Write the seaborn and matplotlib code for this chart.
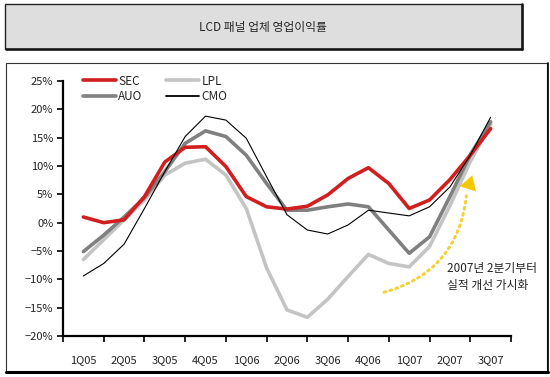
import numpy as np
import pandas as pd
import matplotlib
matplotlib.use('Agg')
import matplotlib.pyplot as plt
from matplotlib.patches import Rectangle
from matplotlib.lines import Line2D
import seaborn as sns

# 분기 (반분기 간격으로 그래프에서 읽은 값)
quarters = ['1Q05', '2Q05', '3Q05', '4Q05', '1Q06', '2Q06',
            '3Q06', '4Q06', '1Q07', '2Q07', '3Q07']
t = np.arange(0, 10.5, 0.5)

sec = [1.0, 0.0, 0.5, 4.6, 10.7, 13.3, 13.4, 9.9, 4.6, 2.8, 2.4,
       2.9, 4.9, 7.8, 9.7, 6.9, 2.5, 4.0, 7.6, 11.9, 16.6]
auo = [-5.1, -2.2, 1.0, 4.4, 9.0, 14.0, 16.2, 15.2, 11.9, 6.9, 2.2,
       2.2, 2.8, 3.3, 2.8, -1.3, -5.4, -2.5, 4.6, 12.0, 17.8]
lpl = [-6.5, -3.0, 0.5, 4.0, 8.4, 10.5, 11.2, 8.4, 2.5, -8.0, -15.4,
       -16.7, -13.5, -9.5, -5.6, -7.2, -7.8, -4.2, 3.0, 10.8, 17.4]
cmo = [-9.4, -7.2, -3.8, 2.5, 9.0, 15.2, 18.8, 18.1, 14.9, 8.1, 1.4,
       -1.3, -2.0, -0.4, 2.2, 1.7, 1.2, 2.8, 6.3, 11.9, 18.6]

names = ['SEC', 'AUO', 'LPL', 'CMO']
colors = {'SEC': '#d11f1f', 'AUO': '#808080', 'LPL': '#c4c4c4', 'CMO': '#000000'}
widths = {'SEC': 2.6, 'AUO': 2.6, 'LPL': 2.6, 'CMO': 0.8}

df = pd.DataFrame({'t': np.tile(t, 4),
                   'value': sec + auo + lpl + cmo,
                   'company': np.repeat(names, len(t))})

sns.set_style('white')
fam = ['Liberation Sans Narrow', 'Noto Sans CJK KR', 'DejaVu Sans']
plt.rcParams['font.family'] = fam
plt.rcParams['axes.unicode_minus'] = True
plt.rcParams['lines.solid_joinstyle'] = 'round'
plt.rcParams['lines.solid_capstyle'] = 'round'

fig = plt.figure(figsize=(5.5, 3.77), dpi=100)

# 제목 박스
fig.patches.append(Rectangle((5/550, 1-49/377), 517/550, 45/377, transform=fig.transFigure,
                             facecolor='#dedede', edgecolor='#222222', lw=1.0, zorder=-2))
fig.lines.append(Line2D([6/550, 522/550], [1-49/377, 1-49/377], transform=fig.transFigure,
                        color='#111111', lw=1.8, zorder=-1))
fig.lines.append(Line2D([522/550, 522/550], [1-49/377, 1-4/377], transform=fig.transFigure,
                        color='#111111', lw=1.8, zorder=-1))
fig.text(263/550, 1-27/377, 'LCD 패널 업체 영업이익률', ha='center', va='center',
         fontsize=8.5, family=fam)

# 차트 테두리
fig.patches.append(Rectangle((6/550, 1-372/377), 541/550, 309/377, transform=fig.transFigure,
                             facecolor='white', edgecolor='#333333', lw=0.8, zorder=-2))
fig.lines.append(Line2D([6/550, 548/550], [1-372/377, 1-372/377], transform=fig.transFigure,
                        color='#000000', lw=2.2, zorder=-1))
fig.lines.append(Line2D([547.5/550, 547.5/550], [1-372/377, 1-63/377], transform=fig.transFigure,
                        color='#000000', lw=1.2, zorder=-1))

ax = fig.add_axes([63/550, 1-336/377, 448/550, 255/377])
ax.set_zorder(5)
ax.patch.set_alpha(0)

for name in ['LPL', 'AUO', 'SEC', 'CMO']:
    sub = df[df['company'] == name]
    sns.lineplot(data=sub, x='t', y='value', ax=ax, color=colors[name],
                 linewidth=widths[name], label=name, legend=False)

ax.set_xlim(-0.5, 10.5)
ax.set_ylim(-20, 25)
ax.set_xlabel('')
ax.set_ylabel('')

ax.set_xticks(np.arange(-0.5, 11, 1))
ax.set_xticklabels([])
ax.set_xticks(np.arange(len(quarters)), minor=True)
ax.set_xticklabels(quarters, minor=True)
ax.tick_params(axis='x', which='major', direction='out', length=4, width=1.2, color='black', bottom=True)
ax.tick_params(axis='x', which='minor', length=0, pad=14, labelsize=8, labelcolor='#222222')

yt = np.arange(-20, 26, 5)
ax.set_yticks(yt)
ax.set_yticklabels([f'{v}%'.replace('-', '\u2212') for v in yt])
ax.tick_params(axis='y', direction='out', length=4, width=1.2, color='black', left=True,
               labelsize=8, labelcolor='#222222', pad=3)

for s in ['top', 'right']:
    ax.spines[s].set_visible(False)
for s in ['left', 'bottom']:
    ax.spines[s].set_color('black')
    ax.spines[s].set_linewidth(1.6)

handles = [Line2D([], [], color=colors[n], lw=widths[n] if n != 'CMO' else 1.3) for n in names]
ax.legend(handles, names, ncol=2, frameon=False, loc='upper left',
          bbox_to_anchor=(0.02, 1.067), handlelength=2.8, handletextpad=0.2,
          columnspacing=2.0, labelspacing=0.25, fontsize=8.5)

# 주석
ax.annotate('', xy=(9.41, 5.2), xytext=(7.32, -12.4),
            arrowprops=dict(arrowstyle='-', color='#f2d23a', lw=2.2, linestyle=(0, (0.6, 1.4)),
                            connectionstyle='arc3,rad=0.35', capstyle='round'))
ax.annotate('', xy=(9.57, 8.8), xytext=(9.38, 4.6),
            arrowprops=dict(arrowstyle='-|>,head_length=1.0,head_width=0.6', color='#f5c800', lw=0.1))
ax.text(8.94, -6.9, '2007년 2분기부터\n실적 개선 가시화', ha='left', va='top', fontsize=8.5,
        linespacing=1.45, color='#222222')

fig.savefig('out.png', dpi=100)
